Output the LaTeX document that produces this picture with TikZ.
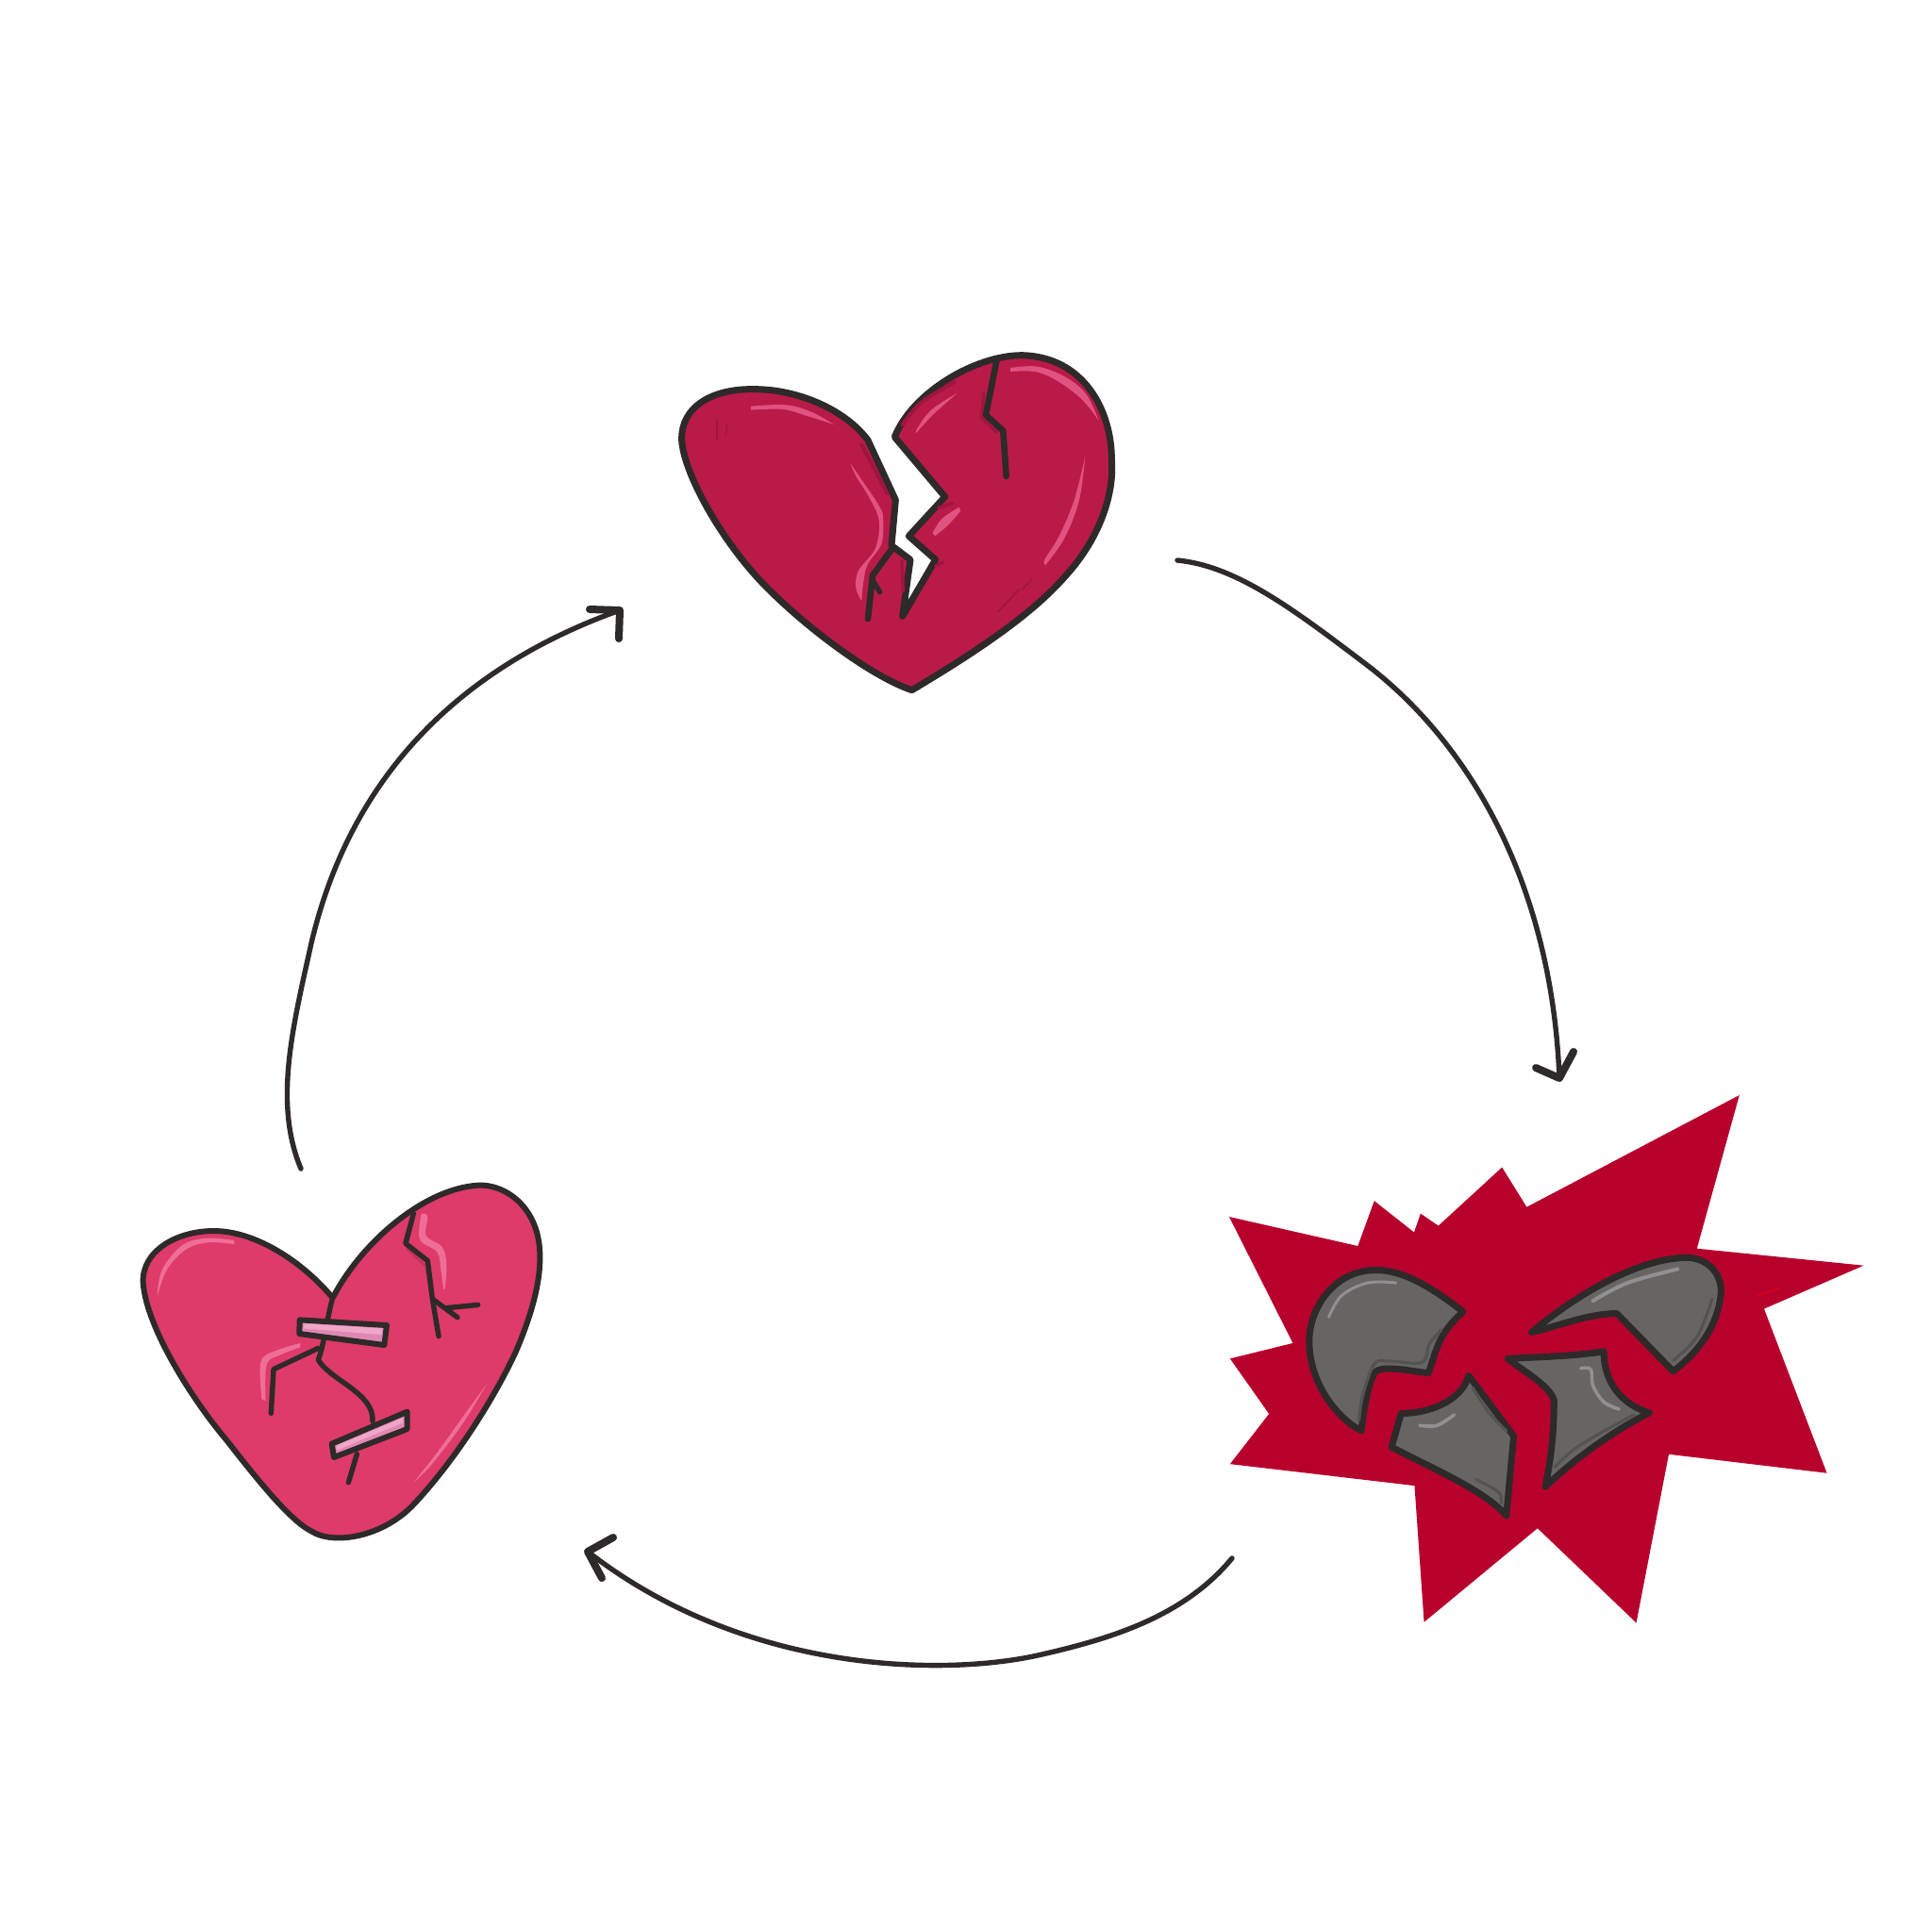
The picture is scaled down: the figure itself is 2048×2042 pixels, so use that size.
\documentclass[tikz,border=0pt]{standalone}
\definecolor{ink}{HTML}{2E2A29}
\definecolor{hearta}{HTML}{BA1A47}
\definecolor{heartad}{HTML}{A0153F}
\definecolor{hearth}{HTML}{E0527F}
\definecolor{heartb}{HTML}{DE3A6A}
\definecolor{heartbd}{HTML}{C42F5C}
\definecolor{heartbh}{HTML}{EF6E98}
\definecolor{tape}{HTML}{E088B4}
\definecolor{tapeb}{HTML}{F0A6C8}
\definecolor{burst}{HTML}{B8002D}
\definecolor{shard}{HTML}{666564}
\definecolor{shardd}{HTML}{545352}
\definecolor{shardh}{HTML}{918F8F}
\tikzset{
  outline/.style={draw=ink,line width=3.5pt,line join=round,line cap=round},
  softline/.style={draw=ink,line width=3pt,line join=round,line cap=round},
  crack/.style={draw=ink,line width=3.3pt,line join=round,line cap=round},
  thincrack/.style={draw=ink,line width=2.7pt,line join=round,line cap=round},
  gleam/.style={line width=#1,line cap=round,line join=round},
  gleam/.default=1.7pt,
  flow/.style={draw=ink,line width=2.7pt,line cap=round,line join=round},
  flowhead/.style={draw=ink,line width=4pt,line cap=round,line join=round},
  sm/.style={smooth,tension=0.6},
}
\newcommand{\taper}[3]{\fill[#1] plot[sm] coordinates {#2} -- plot[sm] coordinates {#3} -- cycle;}
\begin{document}
\begin{tikzpicture}[x=0.5pt,y=-0.5pt]
\useasboundingbox (0,0) rectangle (2048,2042);
\fill[white] (0,0) rectangle (2048,2042);

% ---------- top heart
\begin{scope}[shift={(700,360)},x=0.16667pt,y=-0.16667pt]
\path[fill=hearta,outline]
  (660,320) .. controls (590,225) and (440,158) .. (300,158)
  .. controls (170,155) and (65,210) .. (68,320)
  .. controls (75,430) and (200,650) .. (340,790)
  .. controls (480,930) and (680,1075) .. (800,1115)
  .. controls (950,1025) and (1170,890) .. (1290,750)
  .. controls (1390,640) and (1445,500) .. (1435,380)
  .. controls (1435,230) and (1350,55) .. (1150,50)
  .. controls (1000,50) and (800,170) .. (745,310)
  -- (905,500) -- (790,625) -- (875,700) -- (770,880)
  -- (795,700) -- (735,655) -- (748,510) -- cycle;
% shading
\draw[heartad,gleam=2pt] (640,335) -- (680,410) -- (722,490);
\draw[heartad,gleam=2pt] plot[sm] coordinates {(770,270)(830,200)(935,135)};
\draw[heartad,gleam=1.8pt] (768,705) -- (772,800);
\draw[heartad,gleam=1.8pt] (885,535) -- (930,520);
\draw[heartad,gleam=1.6pt] (875,720) -- (900,708);
\draw[heartad,gleam=1.6pt] (1028,170) -- (1022,250) -- (1070,295);
\draw[heartad,gleam=0.8pt] (180,255) -- (180,320);
\draw[heartad,gleam=0.8pt] (212,268) -- (208,305);
\draw[heartad,gleam=0.9pt] (1075,865) -- (1140,795);
\draw[heartad,gleam=0.8pt] (1150,795) -- (1182,762);
% highlights
\taper{hearth}{(288,212)(400,208)(480,230)(552,270)}{(552,270)(470,244)(390,222)(288,224)}
\taper{hearth}{(1113,90)(1200,86)(1290,120)(1355,175)(1394,258)}{(1394,258)(1340,190)(1260,130)(1190,102)(1113,102)}
\taper{hearth}{(603,392)(650,460)(695,528)(708,565)(703,650)(655,725)(640,832)}{(640,832)(622,790)(630,735)(683,665)(695,575)(660,495)(625,440)(603,392)}
\taper{hearth}{(813,290)(860,225)(945,170)}{(945,170)(868,238)(813,298)}
\taper{hearth}{(866,615)(895,570)(950,533)}{(955,545)(915,590)(873,625)}
\taper{hearth}{(1351,370)(1332,510)(1286,630)(1225,717)}{(1225,717)(1222,700)(1268,625)(1316,510)(1351,370)}
% cracks
\draw[crack] (735,668) -- (675,750) -- (660,888);
\draw[thincrack] (675,765) -- (698,803);
\draw[crack] (1070,62) -- (1035,240) -- (1090,290) -- (1100,435);
\end{scope}

% ---------- burst
\begin{scope}[shift={(1280,1140)},x=0.22956pt,y=-0.19133pt]
\fill[burst] (50,392) -- (347,473) -- (385,348) -- (477,435) -- (492,383) -- (533,417) -- (680,255) -- (737,365) -- (1228,55) -- (1130,480) -- (1515,527) -- (1285,647) -- (1430,1102) -- (1065,1050) -- (990,1517) -- (762,1255) -- (500,1515) -- (478,1137) -- (52,1077) -- (142,938) -- (52,785) -- (197,742) -- cycle;
\draw[red!70!burst,gleam=1.2pt,opacity=.5] (1270,610) -- (1320,590);
\path[fill=shard,outline]
  (590,655) .. controls (520,590) and (450,535) .. (380,540)
  .. controls (290,545) and (230,650) .. (235,750)
  .. controls (240,860) and (300,950) .. (355,985)
  .. controls (360,930) and (370,860) .. (385,825)
  .. controls (400,800) and (470,820) .. (510,825)
  .. controls (530,760) and (530,720) .. (590,655) -- cycle;
\path[fill=shard,outline]
  (748,712) .. controls (860,600) and (1000,505) .. (1110,505)
  .. controls (1170,510) and (1190,570) .. (1185,610)
  .. controls (1175,710) and (1120,780) .. (1075,820)
  -- (945,660)
  .. controls (880,660) and (810,695) .. (748,712) -- cycle;
\path[fill=shard,outline]
  (603,832) .. controls (590,890) and (530,935) .. (447,937)
  -- (425,1030)
  .. controls (520,1090) and (640,1150) .. (690,1220)
  -- (707,1000) -- cycle;
\path[fill=shard,outline]
  (693,785) .. controls (770,780) and (850,778) .. (915,765)
  .. controls (915,830) and (940,905) .. (1020,935)
  .. controls (930,990) and (840,1070) .. (780,1140)
  .. controls (795,1050) and (800,980) .. (800,900)
  .. controls (790,860) and (730,820) .. (693,785) -- cycle;
% shard shading
\draw[shardd,gleam=1.6pt] plot[sm] coordinates {(350,955)(358,890)(385,800)(420,792)(495,795)(512,745)(540,705)};
\draw[shardd,gleam=1.6pt] plot[sm] coordinates {(1075,790)(1130,725)(1165,620)};
\draw[shardd,gleam=1.6pt] plot[sm] coordinates {(612,865)(650,935)(690,985)};
\draw[shardd,gleam=1.6pt] plot[sm] coordinates {(678,1185)(672,1155)(620,1120)};
\draw[shardd,gleam=1.6pt] plot[sm] coordinates {(802,1085)(860,1025)(985,940)};
% shard highlights
\draw[shardh,gleam=1.5pt] plot[sm] coordinates {(280,670)(310,610)(370,575)(435,575)};
\draw[shardh,gleam=2pt] plot[sm] coordinates {(890,625)(970,575)(1085,537)};
\draw[shardh,gleam=1.8pt] plot[sm] coordinates {(490,970)(530,970)(570,940)};
\draw[shardh,gleam=1.8pt] plot[sm] coordinates {(862,812)(885,815)(890,860)(915,905)(950,925)};
\end{scope}

% ---------- mended heart
\begin{scope}[shift={(130,1240)},x=0.16667pt,y=-0.16667pt]
\path[fill=heartb,softline]
  (668,408) .. controls (570,290) and (420,195) .. (290,195)
  .. controls (170,195) and (60,260) .. (65,360)
  .. controls (75,500) and (220,730) .. (330,860)
  .. controls (420,975) and (530,1115) .. (600,1150)
  .. controls (670,1195) and (830,1170) .. (930,1060)
  .. controls (1060,920) and (1180,730) .. (1250,580)
  .. controls (1310,440) and (1335,330) .. (1325,240)
  .. controls (1310,110) and (1210,45) .. (1130,50)
  .. controls (960,60) and (760,230) .. (668,408) -- cycle;
% highlights
\taper{heartbh}{(110,405)(125,320)(190,240)(270,218)(355,225)}{(355,237)(270,232)(200,255)(140,320)(110,405)}
\taper{heartbh}{(955,140)(970,150)(965,210)(1015,245)(1030,300)(1025,380)}{(1020,380)(1012,320)(1000,262)(945,222)(950,140)}
\taper{heartbh}{(565,552)(490,575)(440,610)(442,730)}{(455,735)(458,620)(500,590)(565,565)}
\taper{heartbh}{(1158,682)(1090,775)(1000,900)(925,995)}{(925,995)(985,935)(1080,810)(1158,682)}
% cracks
\draw[heartbd,gleam=1.4pt] (905,252) -- (965,308) -- (980,400);
\draw[heartbd,gleam=1.4pt] (915,160) -- (893,235);
\draw[thincrack] (668,408) .. controls (650,470) and (640,560) .. (622,605) .. controls (660,670) and (800,710) .. (795,800);
\draw[thincrack] (745,905) -- (718,995);
\draw[thincrack] (622,568) -- (480,635) -- (472,775);
\draw[thincrack] (925,140) -- (900,235) -- (970,290) -- (985,410) -- (1005,530);
\draw[thincrack] (990,415) -- (1065,470);
\draw[thincrack] (1030,440) -- (1130,430);
% plasters
\path[fill=tape,softline] (563,478) -- (840,495) -- (832,558) -- (562,522) -- cycle;
\fill[tapeb] (578,490) -- (825,505) -- (822,525) -- (575,505) -- cycle;
\path[fill=tape,softline] (665,872) -- (905,770) -- (905,825) -- (672,915) -- cycle;
\fill[tapeb] (680,878) -- (890,790) -- (892,805) -- (682,892) -- cycle;
\end{scope}

% ---------- cycle arrows
\coordinate (s1) at (1248,594); \coordinate (e1) at (1653,1143);
\coordinate (s2) at (1306,1652); \coordinate (e2) at (623,1645);
\coordinate (s3) at (319,1239); \coordinate (e3) at (657,647);
\draw[flow] (s1) .. controls (1310,600) and (1370,645) .. (1449,705) .. controls (1560,790) and (1645,940) .. (e1);
\draw[flowhead] (1628,1132) -- (e1) -- (1668,1115);
\draw[flow] (s2) .. controls (1254,1715) and (1175,1738) .. (1100,1755) .. controls (1000,1777) and (790,1775) .. (e2);
\draw[flowhead] (650,1630) -- (e2) -- (638,1673);
\draw[flow] (s3) .. controls (290,1170) and (310,1090) .. (330,1000) .. controls (370,830) and (480,710) .. (e3);
\draw[flowhead] (625,646) -- (e3) -- (656,677);
\end{tikzpicture}
\end{document}
